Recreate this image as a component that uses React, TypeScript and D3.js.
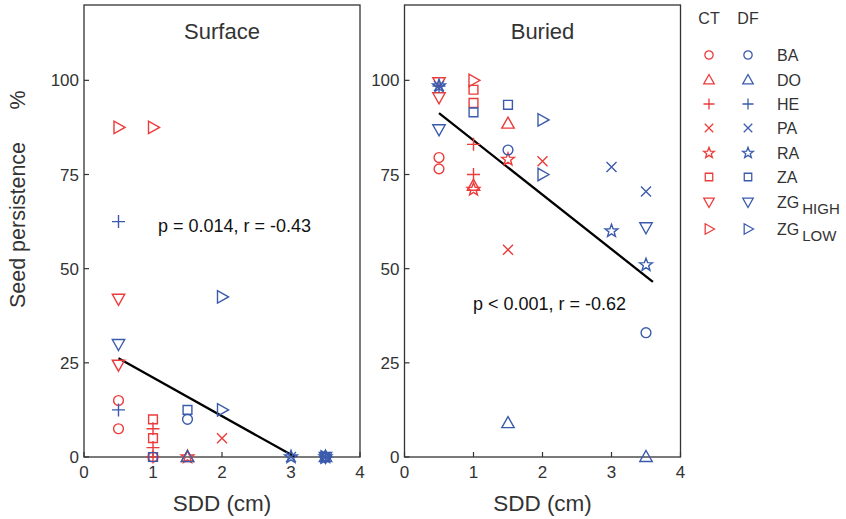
import React from "react";
import * as d3 from "d3";

type Pt = [string, number, number]; // species, SDD, persistence

const species = ["BA", "DO", "HE", "PA", "RA", "ZA", "ZG_HIGH", "ZG_LOW"];
const xTicks = [0, 1, 2, 3, 4];
const yTicks = [0, 25, 50, 75, 100];

const surfaceCT: Pt[] = [
  ["BA", 0.5, 15], ["BA", 0.5, 7.5], ["BA", 1, 0],
  ["DO", 1.5, 0],
  ["HE", 1, 7.5], ["HE", 1, 2.5], ["HE", 1, 0],
  ["PA", 2, 5],
  ["RA", 1.5, 0],
  ["ZA", 1, 10], ["ZA", 1, 5], ["ZA", 1, 0],
  ["ZG_HIGH", 0.5, 42], ["ZG_HIGH", 0.5, 24.5],
  ["ZG_LOW", 0.5, 87.5], ["ZG_LOW", 1, 87.5],
];
const surfaceDF: Pt[] = [
  ["BA", 1.5, 10], ["BA", 3.5, 0],
  ["DO", 1.5, 0], ["DO", 3.5, 0],
  ["HE", 0.5, 62.5], ["HE", 0.5, 12.5], ["HE", 3.5, 0],
  ["PA", 3, 0], ["PA", 3.5, 0],
  ["RA", 3, 0], ["RA", 3.5, 0],
  ["ZA", 1.5, 12.5], ["ZA", 1, 0],
  ["ZG_HIGH", 0.5, 30], ["ZG_HIGH", 3.5, 0],
  ["ZG_LOW", 2, 42.5], ["ZG_LOW", 2, 12.5], ["ZG_LOW", 3.5, 0],
];
const buriedCT: Pt[] = [
  ["BA", 0.5, 79.5], ["BA", 0.5, 76.5],
  ["DO", 1, 72], ["DO", 1.5, 88.5],
  ["HE", 1, 83], ["HE", 1, 75],
  ["PA", 1.5, 55], ["PA", 2, 78.5],
  ["RA", 1, 71], ["RA", 1.5, 79],
  ["ZA", 1, 97.5], ["ZA", 1, 94],
  ["ZG_HIGH", 0.5, 99.5], ["ZG_HIGH", 0.5, 95.5],
  ["ZG_LOW", 1, 100],
];
const buriedDF: Pt[] = [
  ["BA", 1.5, 81.5], ["BA", 3.5, 33],
  ["DO", 1.5, 9], ["DO", 3.5, 0],
  ["HE", 0.5, 98.5],
  ["PA", 0.5, 98.5], ["PA", 3, 77], ["PA", 3.5, 70.5],
  ["RA", 0.5, 98.5], ["RA", 3, 60], ["RA", 3.5, 51],
  ["ZA", 1, 91.5], ["ZA", 1.5, 93.5],
  ["ZG_HIGH", 0.5, 87], ["ZG_HIGH", 3.5, 61],
  ["ZG_LOW", 2, 89.5], ["ZG_LOW", 2, 75],
];
const surfaceFit: [number, number][] = [[0.5, 26.2], [3.6, -5.5]];
const buriedFit: [number, number][] = [[0.5, 91.3], [3.6, 46.5]];

const RED = "#ec3b3b";
const BLUE = "#3a5bad";
const TXT = "#333333";
const FONT = "'Liberation Sans', Arial, Helvetica, sans-serif";

function markerPath(sp: string): string {
  const p = d3.path();
  switch (sp) {
    case "BA":
      p.moveTo(4.9, 0);
      p.arc(0, 0, 4.9, 0, Math.PI * 2);
      break;
    case "DO":
      p.moveTo(0, -6.5); p.lineTo(6.2, 4.5); p.lineTo(-6.2, 4.5); p.closePath();
      break;
    case "HE":
      p.moveTo(-6.5, 0); p.lineTo(6.5, 0); p.moveTo(0, -6.5); p.lineTo(0, 6.5);
      break;
    case "PA":
      p.moveTo(-5, -5); p.lineTo(5, 5); p.moveTo(-5, 5); p.lineTo(5, -5);
      break;
    case "RA": {
      const ro = 6.7, ri = 2.8;
      for (let i = 0; i < 10; i++) {
        const r = i % 2 === 0 ? ro : ri;
        const a = -Math.PI / 2 + (i * Math.PI) / 5;
        if (i === 0) p.moveTo(r * Math.cos(a), r * Math.sin(a));
        else p.lineTo(r * Math.cos(a), r * Math.sin(a));
      }
      p.closePath();
      break;
    }
    case "ZA":
      p.rect(-4.4, -4.4, 8.8, 8.8);
      break;
    case "ZG_HIGH":
      p.moveTo(0, 6.5); p.lineTo(6.2, -4.5); p.lineTo(-6.2, -4.5); p.closePath();
      break;
    default:
      p.moveTo(6.5, 0); p.lineTo(-4.5, -6.2); p.lineTo(-4.5, 6.2); p.closePath();
  }
  return p.toString();
}

const y = d3.scaleLinear().domain([0, 120]).range([457, 5]);

function Panel({ x0, title, ct, df, fit, stat, statX, statY, id }: any) {
  const x = d3.scaleLinear().domain([0, 4]).range([x0, x0 + 276]);
  const line = d3.line<[number, number]>().x((d) => x(d[0])).y((d) => y(d[1]));
  const [r0, r1] = x.range();
  const [b, t] = y.range();
  return (
    <g>
      <defs>
        <clipPath id={id}>
          <rect x={r0} y={t} width={r1 - r0} height={b - t} />
        </clipPath>
      </defs>
      <rect x={r0} y={t} width={r1 - r0} height={b - t} fill="white" stroke={TXT} strokeWidth={1.3} />
      {xTicks.map((v) => (
        <g key={"x" + v}>
          <line x1={x(v)} x2={x(v)} y1={b} y2={b - 5} stroke={TXT} strokeWidth={1.2} />
          <text x={x(v)} y={b + 21} textAnchor="middle" fontSize={17} fill={TXT} fontFamily={FONT}>{v}</text>
        </g>
      ))}
      {yTicks.map((v) => (
        <g key={"y" + v}>
          <line x1={r0} x2={r0 + 5} y1={y(v)} y2={y(v)} stroke={TXT} strokeWidth={1.2} />
          <text x={r0 - 5} y={y(v) + 6} textAnchor="end" fontSize={17} fill={TXT} fontFamily={FONT}>{v}</text>
        </g>
      ))}
      <text x={(r0 + r1) / 2} y={39} textAnchor="middle" fontSize={22} fill={TXT} fontFamily={FONT}>{title}</text>
      <text x={(r0 + r1) / 2} y={511} textAnchor="middle" fontSize={22.5} fill={TXT} fontFamily={FONT}>SDD (cm)</text>
      <g clipPath={`url(#${id})`}>
        <path d={line(fit) || ""} stroke="black" strokeWidth={2.3} fill="none" />
      </g>
      {ct.map((d: Pt, i: number) => (
        <path key={"c" + i} d={markerPath(d[0])} transform={`translate(${x(d[1])},${y(d[2])})`}
          fill="none" stroke={RED} strokeWidth={1.4} />
      ))}
      {df.map((d: Pt, i: number) => (
        <path key={"d" + i} d={markerPath(d[0])} transform={`translate(${x(d[1])},${y(d[2])})`}
          fill="none" stroke={BLUE} strokeWidth={1.4} />
      ))}
      <text x={statX} y={statY} fontSize={18} fill="#111" fontFamily={FONT}>{stat}</text>
    </g>
  );
}

export default function App() {
  return (
    <svg width={846} height={519} style={{ position: "absolute", left: 0, top: 0, background: "white" }}>
      <rect width={846} height={519} fill="white" />
      <Panel id="clipS" x0={84} title="Surface" ct={surfaceCT} df={surfaceDF} fit={surfaceFit}
        stat="p = 0.014, r = -0.43" statX={158} statY={232} />
      <Panel id="clipB" x0={404.5} title="Buried" ct={buriedCT} df={buriedDF} fit={buriedFit}
        stat="p < 0.001, r = -0.62" statX={473} statY={310} />
      <g transform="translate(25,200) rotate(-90)">
        <text x={-25} y={0} textAnchor="middle" fontSize={21.5} fill={TXT} fontFamily={FONT}>Seed persistence</text>
        <text x={100} y={0} textAnchor="middle" fontSize={21.5} fill={TXT} fontFamily={FONT}>%</text>
      </g>
      <text x={709} y={24} textAnchor="middle" fontSize={16} fill={TXT} fontFamily={FONT}>CT</text>
      <text x={748} y={24} textAnchor="middle" fontSize={16} fill={TXT} fontFamily={FONT}>DF</text>
      {species.map((s, i) => {
        const yy = [55, 80, 104, 128, 153, 177, 202, 229][i];
        const label = s.startsWith("ZG") ? "ZG" : s;
        const sub = s === "ZG_HIGH" ? "HIGH" : s === "ZG_LOW" ? "LOW" : "";
        return (
          <g key={s}>
            <path d={markerPath(s)} transform={`translate(709,${yy}) scale(0.85)`} fill="none" stroke={RED} strokeWidth={1.5} />
            <path d={markerPath(s)} transform={`translate(748,${yy}) scale(0.85)`} fill="none" stroke={BLUE} strokeWidth={1.5} />
            <text x={777} y={yy + 6} fontSize={16} fill={TXT} fontFamily={FONT}>
              {label}
              {sub && <tspan dx={3} dy={6} fontSize={15}>{sub}</tspan>}
            </text>
          </g>
        );
      })}
    </svg>
  );
}
